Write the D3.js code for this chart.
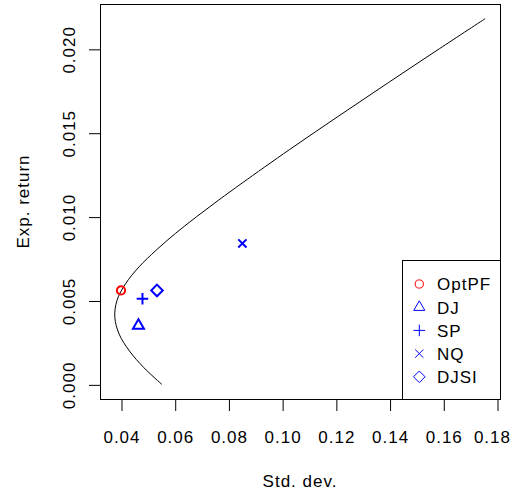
<!DOCTYPE html>
<html>
<head>
<meta charset="utf-8">
<script src="https://cdn.jsdelivr.net/npm/d3@7"></script>
<style>
  html, body { margin: 0; padding: 0; background: #fff; }
  svg text { font-family: "Liberation Sans", Arial, Helvetica, sans-serif; font-size: 17px; letter-spacing: 1px; fill: #000; }
</style>
</head>
<body>
<svg id="chart" width="514" height="493"></svg>
<script>
// Efficient frontier (expected return vs. standard deviation)
const frontierRet = [0.000, 0.001, 0.002, 0.003, 0.004, 0.005, 0.006, 0.007, 0.008, 0.009,
                     0.010, 0.011, 0.012, 0.014, 0.016, 0.018, 0.020, 0.0218];
const frontierStd = [0.0552, 0.0485, 0.0431, 0.0393, 0.0377, 0.0385, 0.0417, 0.0467, 0.0531, 0.0603,
                     0.0682, 0.0765, 0.0851, 0.1028, 0.1211, 0.1397, 0.1585, 0.1756];

// Individual portfolios / indices
const assetNames = ["OptPF", "DJ", "SP", "NQ", "DJSI"];
const assetStd   = [0.0400, 0.0465, 0.0480, 0.0852, 0.0534];
const assetRet   = [0.0056, 0.0035, 0.0051, 0.0084, 0.0056];
const assetPch   = ["circle", "triangle", "plus", "cross", "diamond"];
const assetColor = ["#ff0000", "#0000ff", "#0000ff", "#0000ff", "#0000ff"];

// Axis ticks
const xTicks = [0.04, 0.06, 0.08, 0.10, 0.12, 0.14, 0.16, 0.18];
const xTickLabels = ["0.04", "0.06", "0.08", "0.10", "0.12", "0.14", "0.16", "0.18"];
const yTicks = [0.000, 0.005, 0.010, 0.015, 0.020];
const yTickLabels = ["0.000", "0.005", "0.010", "0.015", "0.020"];

const W = 514;
const svg = d3.select("#chart");
const plot = { left: 100, right: 500, top: 4, bottom: 399 };

// Axis limits: data range padded by 4% on each side
function padded(ext) {
  const d = (ext[1] - ext[0]) * 0.04;
  return [ext[0] - d, ext[1] + d];
}
const x = d3.scaleLinear()
  .domain(padded(d3.extent(frontierStd)))
  .range([plot.left, plot.right]);
const y = d3.scaleLinear()
  .domain(padded(d3.extent(frontierRet)))
  .range([plot.bottom, plot.top]);

// Frontier curve
const pts = frontierRet.map((r, i) => [frontierStd[i], r]);
svg.append("path")
  .datum(pts)
  .attr("fill", "none")
  .attr("stroke", "#000")
  .attr("stroke-width", 1)
  .attr("d", d3.line().x(d => x(d[0])).y(d => y(d[1])).curve(d3.curveCatmullRom.alpha(0.5)));

// Plotting symbols in the style of R's pch 1-5
const RAD = 4.1;
function symbolPath(type, cx, cy, rad) {
  const p = d3.path();
  if (type === "circle") {
    p.moveTo(cx + rad, cy);
    p.arc(cx, cy, rad, 0, 2 * Math.PI);
  } else if (type === "triangle") {
    const r = 1.555 * rad;
    const xc = r * Math.sqrt(3) / 2;
    p.moveTo(cx, cy - r);
    p.lineTo(cx + xc, cy + r / 2);
    p.lineTo(cx - xc, cy + r / 2);
    p.closePath();
  } else if (type === "plus") {
    const h = Math.SQRT2 * rad;
    p.moveTo(cx - h, cy); p.lineTo(cx + h, cy);
    p.moveTo(cx, cy - h); p.lineTo(cx, cy + h);
  } else if (type === "cross") {
    const h = rad;
    p.moveTo(cx - h, cy - h); p.lineTo(cx + h, cy + h);
    p.moveTo(cx - h, cy + h); p.lineTo(cx + h, cy - h);
  } else if (type === "diamond") {
    const h = Math.SQRT2 * rad;
    p.moveTo(cx, cy - h); p.lineTo(cx + h, cy);
    p.lineTo(cx, cy + h); p.lineTo(cx - h, cy);
    p.closePath();
  }
  return p.toString();
}

svg.append("g").selectAll("path")
  .data(assetNames.map((n, i) => i))
  .join("path")
  .attr("d", i => symbolPath(assetPch[i], x(assetStd[i]), y(assetRet[i]), RAD))
  .attr("fill", "none")
  .attr("stroke", i => assetColor[i])
  .attr("stroke-width", 2);

// Axes
const xAxis = svg.append("g")
  .attr("transform", `translate(0.5,${plot.bottom + 0.5})`)
  .call(d3.axisBottom(x).tickValues(xTicks).tickFormat((d, i) => xTickLabels[i]).tickSize(11.5).tickSizeOuter(0));
xAxis.select(".domain").remove();
xAxis.selectAll("line").attr("stroke", "#000");
xAxis.selectAll("text")
  .attr("y", 43.5).attr("dy", 0)
  .attr("font-family", null).attr("font-size", null)
  .style("fill", "#000");
// keep the outermost tick label inside the drawing area
xAxis.selectAll(".tick").each(function () {
  const tick = d3.select(this);
  const t = tick.select("text").node();
  const box = t.getBoundingClientRect();
  const over = box.right - (W - 3);
  if (over > 0) d3.select(t).attr("dx", -over);
});

const yAxis = svg.append("g")
  .attr("transform", `translate(${plot.left + 0.5},0.5)`)
  .call(d3.axisLeft(y).tickValues(yTicks).tickFormat((d, i) => yTickLabels[i]).tickSize(11.5).tickSizeOuter(0));
yAxis.select(".domain").remove();
yAxis.selectAll("line").attr("stroke", "#000");
yAxis.selectAll("text")
  .attr("x", 0).attr("y", 0).attr("dy", 0)
  .attr("text-anchor", "middle")
  .attr("transform", "translate(-25.5,0) rotate(-90)")
  .attr("font-family", null).attr("font-size", null)
  .style("fill", "#000");

// Plot frame
svg.append("rect")
  .attr("x", plot.left + 0.5).attr("y", plot.top + 0.5)
  .attr("width", plot.right - plot.left).attr("height", plot.bottom - plot.top)
  .attr("fill", "none").attr("stroke", "#000").attr("stroke-width", 1);

// Axis titles
svg.append("text")
  .attr("x", (plot.left + plot.right) / 2).attr("y", 487)
  .attr("text-anchor", "middle")
  .text("Std. dev.");
svg.append("text")
  .attr("transform", `translate(28.5,${(plot.top + plot.bottom) / 2}) rotate(-90)`)
  .attr("text-anchor", "middle")
  .text("Exp. return");

// Legend
const legend = svg.append("g");
legend.append("rect")
  .attr("x", 402.5).attr("y", 260.5)
  .attr("width", 98).attr("height", 139)
  .attr("fill", "#fff").attr("stroke", "#000").attr("stroke-width", 1);
const rowY0 = 284, rowStep = 23.2;
assetNames.forEach((name, i) => {
  const cy = rowY0 + i * rowStep;
  legend.append("path")
    .attr("d", symbolPath(assetPch[i], 419.3, cy, RAD))
    .attr("fill", "none")
    .attr("stroke", assetColor[i])
    .attr("stroke-width", 1);
  legend.append("text")
    .attr("x", 437).attr("y", cy + 6.3)
    .text(name);
});
</script>
</body>
</html>
